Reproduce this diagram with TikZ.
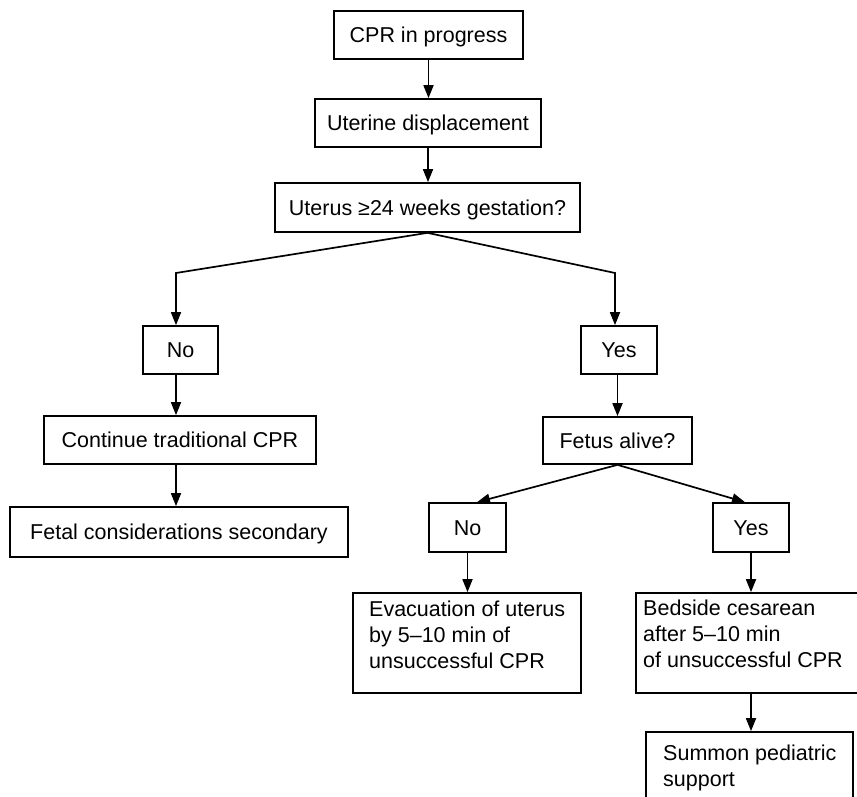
\documentclass[tikz,border=0pt]{standalone}
\usepackage{fontspec}
\setmainfont{Liberation Sans}
\usetikzlibrary{arrows.meta}
\begin{document}
\begin{tikzpicture}[x=1pt,y=-1pt,
  box/.style={draw,line width=1.7pt,inner sep=0pt,minimum height=48pt,
    font=\fontsize{21.5}{26}\selectfont,text height=15.4pt,text depth=0pt},
  frame/.style={draw,line width=1.7pt,inner sep=0pt},
  txt/.style={inner sep=0pt,anchor=north west,align=left,font=\fontsize{21.5}{26}\selectfont},
  arr/.style={line width=1.7pt,-{Triangle[length=13pt,width=10pt]}}]
\clip (0,0) rectangle (857,797);
\fill[white] (0,0) rectangle (857,797);
% boxes
\node[box,minimum width=189pt] (cpr) at (428.5,35) {CPR in progress};
\node[box,minimum width=226pt] (ud) at (428,123) {Uterine displacement};
\node[box,minimum width=305pt,minimum height=49pt] (ut) at (427.5,207.5) {Uterus ≥24 weeks gestation?};
\node[box,minimum width=75pt] (noa) at (180.5,350) {No};
\node[box,minimum width=76pt] (yesa) at (619,350) {Yes};
\node[box,minimum width=272pt] (cont) at (180,440) {Continue traditional CPR};
\node[box,minimum width=338pt,minimum height=50pt] (fetal) at (179,532) {Fetal considerations secondary};
\node[box,minimum width=149pt,minimum height=47pt] (fa) at (617.5,440.5) {Fetus alive?};
\node[box,minimum width=77pt,minimum height=49pt] (nob) at (467.5,527.5) {No};
\node[box,minimum width=76pt,minimum height=49pt] (yesb) at (751,527.5) {Yes};
\node[frame,minimum width=228pt,minimum height=100pt] (evac) at (467,643) {};
\node[frame,minimum width=224pt,minimum height=100pt] (bed) at (748,643) {};
\node[frame,minimum width=207pt,minimum height=73pt] (sum) at (749.5,768.5) {};
% multi-line texts
\node[txt] (evact) at (369,600.3) {Evacuation of uterus\\by 5–10 min of\\unsuccessful CPR};
\node[txt] (bedt) at (643,599.4) {Bedside cesarean\\after 5–10 min\\of unsuccessful CPR};
\node[txt] (sumt) at (663,744.4) {Summon pediatric\\support};
% branch points
\coordinate (bl) at (176,273);
\coordinate (br) at (615,273);
% connectors
\draw[arr] (cpr.south) -- (cpr.south |- ud.north);
\draw[arr] (ud.south) -- (ud.south |- ut.north);
\draw[arr] (ut.south) -- (bl) -- (bl |- noa.north);
\draw[arr] (ut.south) -- (br) -- (br |- yesa.north);
\draw[arr] (bl |- noa.south) -- (bl |- cont.north);
\draw[arr] (bl |- cont.south) -- (bl |- fetal.north);
\draw[arr] (fa.north |- yesa.south) -- (fa.north);
\draw[arr] (fa.south) -- ([xshift=9.5pt]nob.north);
\draw[arr] (fa.south) -- ([xshift=-6pt]yesb.north);
\draw[arr] (nob.south) -- (nob.south |- evac.north);
\draw[arr] (yesb.south) -- (yesb.south |- bed.north);
\draw[arr] (yesb.south |- bed.south) -- (yesb.south |- sum.north);
\end{tikzpicture}
\end{document}
